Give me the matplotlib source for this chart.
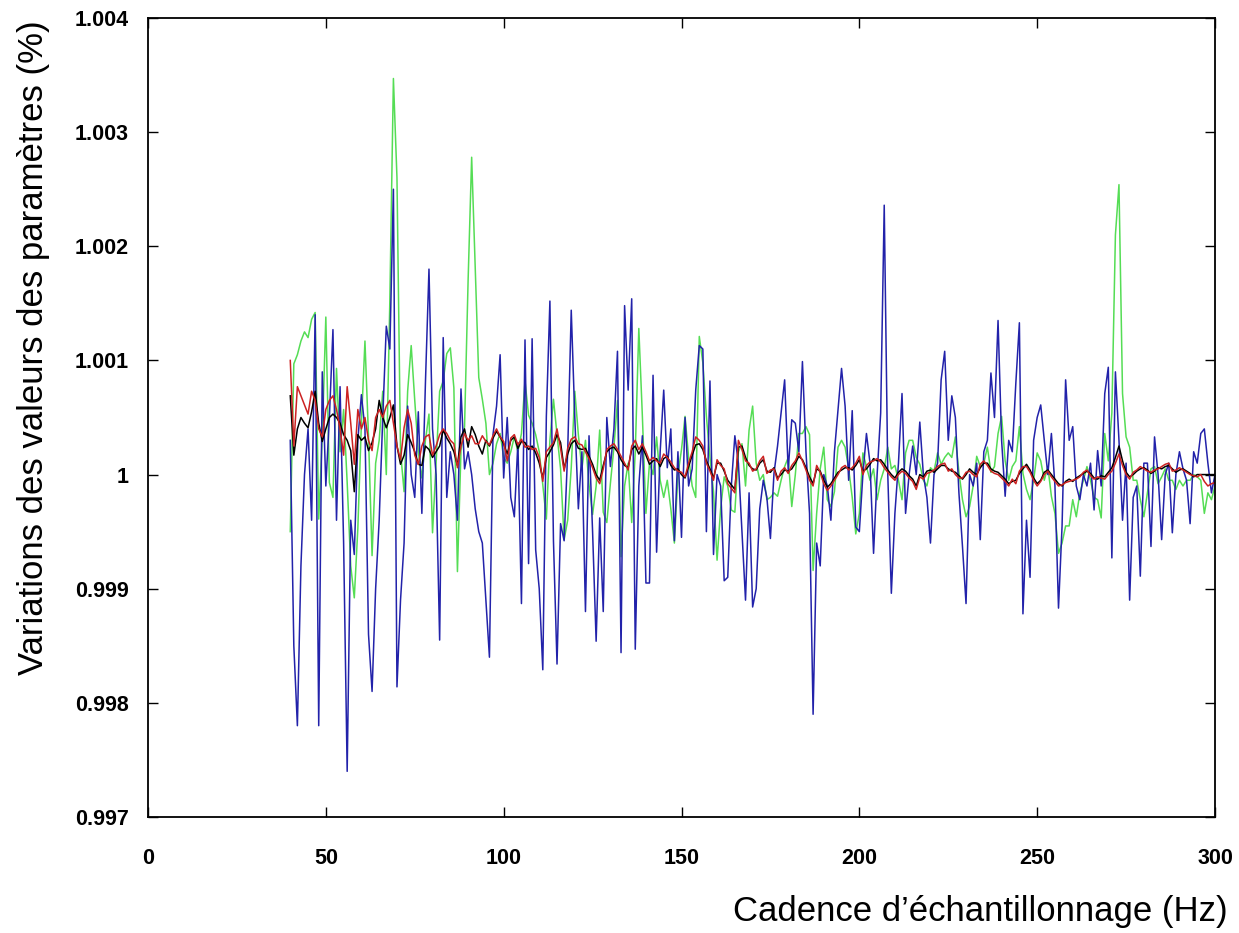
import matplotlib
matplotlib.use("Agg")
import matplotlib.pyplot as plt
import numpy as np

# Sampling rate (Hz)
freq = list(range(40, 301))

# Deviations from 1, in units of 1e-4 (value = 1 + d * 1e-4)
blue_dev = [
    3, -15, -22, -8, 0, 4, -4, 14, -22, 9,
    -1, 5, 12.7, -4, 7.7, -6, -26, -4, -7, 3,
    7, 4, -14, -19, -10, -4, 5, 13, 11, 25,
    -18.6, -11, -6, 6, 0, -2, 5.5, -3.4, 8, 18,
    4, 0, -14.5, 12, -2, 2, 0, -4, 7.5, 0.5,
    2, 0, -3, -5, -6, -11, -16, 3.5, 6, 10.5,
    -0.3, 5, -2, -3.7, 2.8, -11.3, 11.8, -7.8, 11.9, -6.6,
    -10, -17.1, 5.1, 15.2, -5.8, -16.6, -4.3, -5.8, 2, 14.4,
    5, -3, 2, -12, 3.4, -5, -14.6, -3.8, -12, 5,
    0.7, 4, 10.8, -15.6, 14.8, 7.4, 15.4, -15.3, -1, 3.4,
    -9.5, -9.5, 8.7, -6.8, 2, 7.4, 0.6, 4, -5.8, 2,
    -5.5, 5, -1, 0.5, 7.4, 11.3, 11, -5, 8.2, -7,
    0, -1, -9.3, -9, -1, 3.4, 1, -5, -11, -1.6,
    -11.6, -10, -3, -0.5, -2, -5.6, 0.1, 2.5, 5.4, 8.3,
    0.4, 4.8, 4.5, 2, 9.9, 2, -3.4, -21, -6, -8,
    0, -1, -4, 2, 5.7, 9.3, 6, -0.5, 5.6, -4.6,
    -5, 0, 3.6, 1, -6.9, 0, 5.4, 23.6, 0, -10.4,
    -3.4, 1, 7.1, -3.4, 0, 2.5, 0, 4.6, 0, -2,
    -6, 0, 1, 8.3, 10.8, 3, 6.9, 5, -1.6, -6.3,
    -11.3, 0, -1, 1, -5.7, 2, 3, 8.9, 5, 13.5,
    3, -1.9, 3, 2, 8, 13.3, -12.2, -4, -9, 3,
    5, 6.1, 3, 0, 3.6, -1, -11.7, -4.5, 8.3, 3,
    4.2, -1, -2.2, 0, -1, 1, -3.1, 2.1, -1, 7.1,
    9.4, -7.3, 9, 3, -4, 1, -11, -2, -1, -8.9,
    1, 1, -6.3, 3.3, 0, -5.7, 0, 1, -5.1, 0,
    2, 0.5, -0.5, -4.3, 2, 1, 3.6, 4, 1, -1.6,
    0,
]

green_dev = [
    -5, 9.7, 10.5, 11.7, 12.5, 12, 13.6, 14.2, -3.9, 3.3,
    13.8, -0.7, -2, 9.3, 2, 5.7, -0.7, -8, -10.8, -4.7,
    4.5, 11.7, 3.3, -7.1, 1, 3, 7.3, 0, 15.3, 34.7,
    26, 2, -1.5, 7.3, 11.3, 6.5, 2, -0.3, 3, 5.3,
    -5.1, 1, 7.3, 8.2, 10.6, 11.1, 7.6, -8.5, 2.1, 4.2,
    17, 27.8, 18.1, 8.5, 6.6, 4.5, 0, 1, 2.7, 3.6,
    1.5, 1, 2, 3.3, 2, 3.6, 8.2, 5.2, 4.5, 3.5,
    2, -0.9, -3.9, 3, 6.6, 3.5, 0.5, -5.7, -4, 0.6,
    7.3, 3.5, 0.5, 3, -0.9, -3.5, -1, 3.9, -3.3, -4.2,
    -0.8, 2.4, 6.5, -7.2, -1, 1, -4.2, 2, 12.8, 5.1,
    -3.4, 1, 0, 3.3, -0.5, -2, -0.5, -3, -6, 0,
    2.2, 5.1, 1.5, -1, -2, 12.1, 9.8, 5.1, 1.5, -1.5,
    -7.5, -3, -0.2, -1, -3.1, -3.3, 2, 2.7, -1, 3.9,
    6, 1, -0.5, 0, -2.2, -2, -1.6, -1.9, -0.5, 0.7,
    1.5, -2.8, 0, 3.6, 3.6, 4.2, 3.5, -8.4, -3.4, 0.5,
    2.4, -2.2, -2.8, -1.5, 2.4, 3, 2.4, 0.5, -2, -5.2,
    -3.4, 1.9, 0.7, -0.5, 0.5, -2.2, -0.5, 0.5, 2.4, 0.5,
    0.8, -0.5, -2.2, 1.9, 3, 3, 1.5, 0.9, -0.5, -1,
    0.6, 0.3, 1.9, 0.9, 1.5, 1.9, 1.5, 3.3, 0.2, -2.2,
    -3.7, -2.8, -1, 1.6, 0.7, 1, 2.4, 0.2, 0.7, 3.6,
    5.1, 1.2, -0.5, 0.7, 1.2, 4.2, 0.1, -1.3, -2.2, -0.5,
    1.9, 1.2, -0.5, 0.7, -1.9, -3.4, -6.9, -6, -4.5, -4.5,
    -2.2, -3.7, -1.6, -0.5, 0.7, -0.5, -2, -2.2, -3.8, 3.6,
    1.2, 5.4, 21, 25.4, 7.1, 3.3, 2.4, -0.5, -0.5, -2.2,
    -3.7, -1.6, 0.5, 0.7, -0.8, -0.2, 0.5, -0.5, -0.5, -1.3,
    -0.5, -1, -0.5, -0.5, 0, -0.2, -0.5, -3.4, -1.6, -2.2,
    -1,
]

red_dev = [
    10, 2.5, 7.7, 6.9, 6.1, 5.3, 7.3, 6.5, 4, 3.3,
    5.7, 6.5, 6.9, 5.7, 4, 1.7, 7.7, 4.5, 0.9, 5.7,
    4, 5, 3, 2.1, 5, 5.7, 5, 6, 6.5, 4.5,
    2.5, 1.3, 4.1, 5.7, 4.5, 1.7, 0.9, 2.5, 3.3, 3.5,
    1.7, 2.5, 3.5, 4, 3.6, 3, 2.7, 0.6, 2.5, 3.6,
    3, 3.4, 2.7, 2.7, 3.4, 2.9, 2.6, 3.4, 4, 3.3,
    2.9, 1.2, 3.2, 3.5, 2.6, 3.1, 2.4, 2.5, 2.2, 2.3,
    1.5, -0.6, 2, 2.4, 2.8, 4, 2.3, 0.3, 2.3, 3.1,
    3.3, 2.7, 2.6, 2, 1.4, 0.6, -0.3, -0.8, 0.5, 2.2,
    2.5, 2.7, 2.2, 1.6, 1, 0.4, 2.5, 3, 2.2, 2.7,
    2, 1.2, 1.5, 1.2, 1, 1.8, 1.5, 1.1, 0.6, 0.3,
    0.2, -0.2, 1, 2, 3.3, 3, 2.5, 1, 0.3, -0.5,
    1.3, 0.8, 0.5, -0.8, -1.2, -1.6, 3, 2.2, 1.2, 1,
    0.3, 0.5, 1.2, 1.6, 0.1, 0.4, 0.5, -0.5, 0.3, 0.6,
    0.1, 0.8, 1.2, 1.9, 1.2, 0.4, -0.5, -1, 0.8, 0.2,
    -0.8, -1.4, -1, -0.5, 0, 0.6, 0.8, 0.4, 0.6, 1,
    1.6, 0, 0.8, 1.1, 1.2, 1.4, 1.1, 0.6, 0.2, -0.2,
    -0.5, 0, 0.3, 0.1, -0.3, -0.6, -1.3, -0.2, -0.4, 0.1,
    0.2, 0.4, 0.7, 0.9, 1, 0.3, 0.5, 0, -0.3, -0.3,
    0.2, 0.3, 0, -0.2, 0.9, 1.2, 0.8, 0.3, 0.1, 0,
    -0.3, -0.6, -1, -0.4, -0.8, 0.3, 0.7, 0.7, 0.2, -0.5,
    -1, -0.6, 0, 0.3, -0.2, -0.6, -1, -0.9, -0.7, -0.6,
    -0.5, -0.4, -0.2, 0.2, 0.4, -0.1, -0.4, -0.2, -0.3, -0.4,
    0, 0.3, 1, 1.8, 0.8, 0, -0.4, 0.2, 0.4, 0.7,
    0.5, 0.3, 0.2, 0.4, 0.5, 0.7, 0.9, 1, 0.3, 0.4,
    0.6, 0.4, 0.2, 0, -0.1, -0.2, 0, -0.6, -1, -0.8,
    -0.7,
]

black_dev = [
    6.9, 1.7, 4, 5, 4.5, 4.1, 5.5, 7.3, 4.5, 2.9,
    4, 5, 5.3, 5, 4.5, 3.5, 3, 2.1, -1.5, 3.5,
    3, 3.3, 2.1, 2.8, 4, 6.5, 5, 4.1, 5, 6.1,
    2.5, 0.9, 1.7, 3.5, 2.8, 2, 0.9, 0.8, 2.5, 2.2,
    1.5, 2, 2.5, 3.9, 3.2, 2.7, 2, 0.8, 3.3, 4,
    2.4, 4.2, 3.5, 2.5, 1.8, 3, 2.5, 3.2, 3.8, 3.3,
    2.7, 1.8, 3, 3.3, 2.3, 2.9, 2.8, 2.2, 2.5, 1.9,
    1, -0.3, 1.5, 2, 2.6, 3.5, 2.8, 0.5, 1.8, 2.7,
    3, 2.3, 2.2, 2.3, 1.6, 0.9, 0, -0.5, 0.8, 2,
    2.3, 2.4, 2, 1.3, 0.8, 0.6, 2.2, 2.5, 1.8, 2.4,
    1.7, 0.9, 1.2, 1.4, 0.7, 1.4, 1.6, 0.8, 0.4, 0.5,
    0, -0.3, 0.7, 1.7, 2.6, 2.7, 2.2, 1.2, 0.5, -0.3,
    1, 1, 0.3, -0.5, -0.9, -1.3, 2.4, 2.5, 1.5, 0.8,
    0.5, 0.4, 1, 1.3, 0.3, 0.2, 0.6, -0.3, 0, 0.4,
    0.3, 0.5, 1, 1.6, 1.3, 0.6, -0.2, -0.8, 0.5, 0.3,
    -0.5, -1.1, -0.8, -0.3, 0.2, 0.4, 0.6, 0.6, 0.4, 0.8,
    1.3, 0.3, 0.5, 0.9, 1.4, 1.2, 1.3, 0.9, 0.4, 0,
    -0.3, 0.2, 0.5, 0.3, -0.1, -0.4, -1, 0, -0.2, 0.3,
    0.4, 0.2, 0.5, 0.8, 0.8, 0.5, 0.3, 0.2, -0.1, -0.4,
    0, 0.5, 0.2, 0, 0.6, 1, 1, 0.5, 0.3, 0.2,
    -0.1, -0.4, -0.8, -0.6, -0.5, 0.1, 0.5, 0.9, 0.4, -0.3,
    -0.8, -0.5, 0.2, 0.4, 0, -0.4, -0.8, -1, -0.6, -0.4,
    -0.6, -0.3, -0.1, 0.1, 0.3, 0.1, -0.3, -0.4, -0.1, -0.2,
    0.2, 0.6, 1.5, 2.5, 1.2, 0.2, -0.2, 0, 0.3, 0.5,
    0.6, 0.4, 0.1, 0.3, 0.6, 0.5, 0.7, 0.8, 0.5, 0.2,
    0.4, 0.5, 0.3, 0.1, -0.2, 0, 0, 0, 0, 0,
    0,
]

x_ticks = [0, 50, 100, 150, 200, 250, 300]
y_ticks = [0.997, 0.998, 0.999, 1.000, 1.001, 1.002, 1.003, 1.004]
y_tick_labels = ["0.997", "0.998", "0.999", "1", "1.001", "1.002", "1.003", "1.004"]
x_label = "Cadence d’échantillonnage (Hz)"
y_label = "Variations des valeurs des paramètres (%)"

scale = 1e-4
x = np.array(freq)
blue = 1 + np.array(blue_dev) * scale
green = 1 + np.array(green_dev) * scale
red = 1 + np.array(red_dev) * scale
black = 1 + np.array(black_dev) * scale

W, H = 1239, 933
fig = plt.figure(figsize=(W / 100, H / 100), dpi=100)
ax = fig.add_axes([148 / W, 1 - 817 / H, (1215 - 148) / W, (817 - 18) / H])

lw = 1.1
ax.plot(x, green, color="#55dd55", lw=lw)
ax.plot(x, blue, color="#2222aa", lw=lw)
ax.plot(x, black, color="#000000", lw=lw)
ax.plot(x, red, color="#cc2222", lw=lw)

ax.set_xlim(0, 300)
ax.set_ylim(0.997, 1.004)
ax.set_xticks(x_ticks)
ax.set_xticklabels([str(v) for v in x_ticks])
ax.set_yticks(y_ticks)
ax.set_yticklabels(y_tick_labels)

for lab in ax.get_xticklabels() + ax.get_yticklabels():
    lab.set_fontfamily("Liberation Sans")
    lab.set_fontweight("bold")
    lab.set_fontsize(15.5)

ax.tick_params(axis="both", direction="in", length=7, width=1.0,
               top=True, right=True, colors="black")
ax.tick_params(axis="y", pad=14)
ax.tick_params(axis="x", pad=22)
for sp in ax.spines.values():
    sp.set_linewidth(1.3)
    sp.set_color("black")

fig.text(1228 / W, 1 - 911 / H, x_label, ha="right", va="center",
         fontsize=25, family="Liberation Sans")
fig.text(34 / W, 1 - 348 / H, y_label, ha="center", va="center", rotation=90,
         fontsize=25, family="Liberation Sans")

fig.savefig("out.png", dpi=100, facecolor="white")
